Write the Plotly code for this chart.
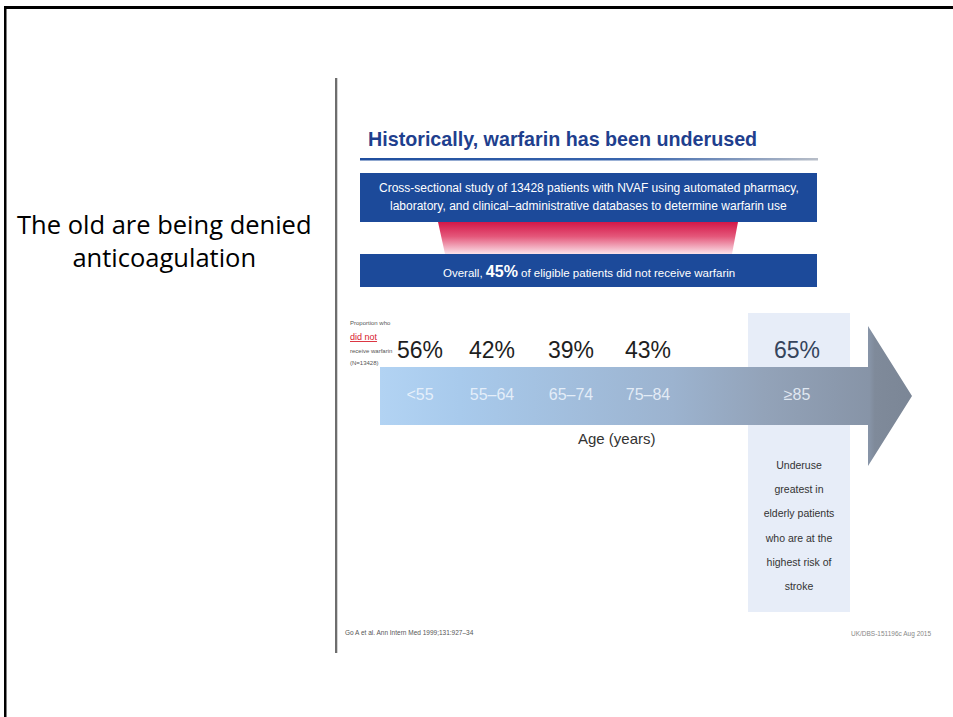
import plotly.graph_objects as go

# ---- data ----
age_groups = ["<55", "55–64", "65–74", "75–84", "≥85"]
pct_not_receiving = [56, 42, 39, 43, 65]
overall_pct = 45
n_patients = 13428
underuse_lines = ["Underuse", "greatest in", "elderly patients", "who are at the", "highest risk of", "stroke"]

# ---- layout constants (pixel space) ----
W, H = 953, 717
col_x = [420, 492, 571, 648, 797]
NARROW = "Liberation Sans Narrow, Arial Narrow, Liberation Sans, Arial"
BLUE = "#1C4A9A"

fig = go.Figure()

shapes = []
# outer frame (top + left)
shapes.append(dict(type="rect", x0=4, x1=W + 2, y0=6, y1=9, fillcolor="black", line_width=0, layer="above"))
shapes.append(dict(type="rect", x0=4, x1=6.5, y0=6, y1=H + 2, fillcolor="black", line_width=0, layer="above"))
# vertical separator
shapes.append(dict(type="rect", x0=335, x1=337.3, y0=78, y1=653, fillcolor="#6e6e6e", line_width=0))
# highlight column for >=85
shapes.append(dict(type="rect", x0=748, x1=850, y0=313, y1=612, fillcolor="#E7EDF8", line_width=0, layer="below"))
# blue boxes
shapes.append(dict(type="rect", x0=360, x1=817, y0=173, y1=222, fillcolor=BLUE, line_width=0))
shapes.append(dict(type="rect", x0=360, x1=817, y0=254, y1=287, fillcolor=BLUE, line_width=0))

# title underline with gradient
fig.add_trace(go.Scatter(
    x=[360, 818, 818, 360, 360], y=[158, 158, 160.5, 160.5, 158],
    mode="lines", line=dict(width=0), fill="toself",
    fillgradient=dict(type="horizontal", start=360, stop=818,
                      colorscale=[[0, "#1F4E9E"], [0.6, "#3A66AE"], [1, "#B8BEC8"]]),
    hoverinfo="skip", showlegend=False))

# pink trapezoid connector
fig.add_trace(go.Scatter(
    x=[438, 738, 732, 445, 438], y=[222, 222, 254, 254, 222],
    mode="lines", line=dict(width=0), fill="toself",
    fillgradient=dict(type="vertical", start=222, stop=254,
                      colorscale=[[0, "#D41748"], [0.45, "#E4577A"], [1, "#FBE3EA"]]),
    hoverinfo="skip", showlegend=False))

# arrow
fig.add_trace(go.Scatter(
    x=[380, 868, 868, 912, 868, 868, 380, 380],
    y=[367, 367, 326, 396, 466, 425, 425, 367],
    mode="lines", line=dict(width=0), fill="toself",
    fillgradient=dict(type="horizontal", start=380, stop=912,
                      colorscale=[[0, "#B2D3F3"], [0.15, "#A8CAEC"], [0.55, "#9CB3CF"],
                                  [0.72, "#93A3B9"], [0.92, "#8794A7"], [0.93, "#7F8A9A"], [1, "#7B8696"]]),
    hoverinfo="skip", showlegend=False))

# percentages (data)
fig.add_trace(go.Scatter(
    x=col_x, y=[352] * 5, mode="text",
    text=[f"{v}%" for v in pct_not_receiving],
    textfont=dict(family=NARROW, size=23, color=["#1e1e1e"] * 4 + ["#35445C"]),
    hoverinfo="skip", showlegend=False))

# age group labels (data)
fig.add_trace(go.Scatter(
    x=col_x, y=[396] * 5, mode="text", text=age_groups,
    textfont=dict(family=NARROW, size=16, color="rgba(240,246,253,0.85)"),
    hoverinfo="skip", showlegend=False))

# underuse text lines
fig.add_trace(go.Scatter(
    x=[col_x[-1] + 2] * len(underuse_lines),
    y=[466 + 24.3 * i for i in range(len(underuse_lines))],
    mode="text", text=underuse_lines,
    textfont=dict(family=NARROW, size=10.5, color="#333333"),
    hoverinfo="skip", showlegend=False))

ann = []
# left caption (two lines in one text block)
ann.append(dict(x=164, y=240, text="The old are being denied<br>anticoagulation", showarrow=False,
                font=dict(family="Open Sans, Noto Sans", size=25.5, color="black")))
# slide title
ann.append(dict(x=366, y=139, xanchor="left", text="<b>Historically, warfarin has been underused</b>",
                showarrow=False, font=dict(family=NARROW, size=19.7, color="#1F3F8E")))
# box 1 text
ann.append(dict(x=588.5, y=188, text=f"Cross-sectional study of {n_patients} patients with NVAF using automated pharmacy,",
                showarrow=False, font=dict(family=NARROW, size=12, color="white")))
ann.append(dict(x=588.5, y=206, text="laboratory, and clinical–administrative databases to determine warfarin use",
                showarrow=False, font=dict(family=NARROW, size=12, color="white")))
# box 2 text
ann.append(dict(x=589, y=271,
                text=f"Overall, <span style='font-size:16px'><b>{overall_pct}%</b></span> of eligible patients did not receive warfarin",
                showarrow=False, font=dict(family=NARROW, size=11.5, color="white")))
# proportion label
ann.append(dict(x=348, y=323, xanchor="left", text="Proportion who", showarrow=False,
                font=dict(family=NARROW, size=6, color="#555")))
ann.append(dict(x=348, y=337, xanchor="left", text="<u>did not</u>", showarrow=False,
                font=dict(family=NARROW, size=9, color="#D8202E")))
ann.append(dict(x=348, y=351, xanchor="left", text="receive warfarin", showarrow=False,
                font=dict(family=NARROW, size=6, color="#555")))
ann.append(dict(x=348, y=363, xanchor="left", text=f"(N={n_patients})", showarrow=False,
                font=dict(family=NARROW, size=6, color="#555")))
# axis label
ann.append(dict(x=617, y=438, text="Age (years)", showarrow=False,
                font=dict(family=NARROW, size=15, color="#333")))
# footers
ann.append(dict(x=343, y=632, xanchor="left", text="Go A et al. Ann Intern Med 1999;131:927–34", showarrow=False,
                font=dict(family=NARROW, size=6.5, color="#555")))
ann.append(dict(x=933, y=634, xanchor="right", text="UK/DBS-151196c Aug 2015", showarrow=False,
                font=dict(family=NARROW, size=6.5, color="#888")))

fig.update_layout(
    width=W, height=H, margin=dict(l=0, r=0, t=0, b=0),
    paper_bgcolor="white", plot_bgcolor="white",
    xaxis=dict(range=[0, W], visible=False, fixedrange=True),
    yaxis=dict(range=[H, 0], visible=False, fixedrange=True),
    shapes=shapes, annotations=ann, showlegend=False,
)

fig.write_html("out.html")
